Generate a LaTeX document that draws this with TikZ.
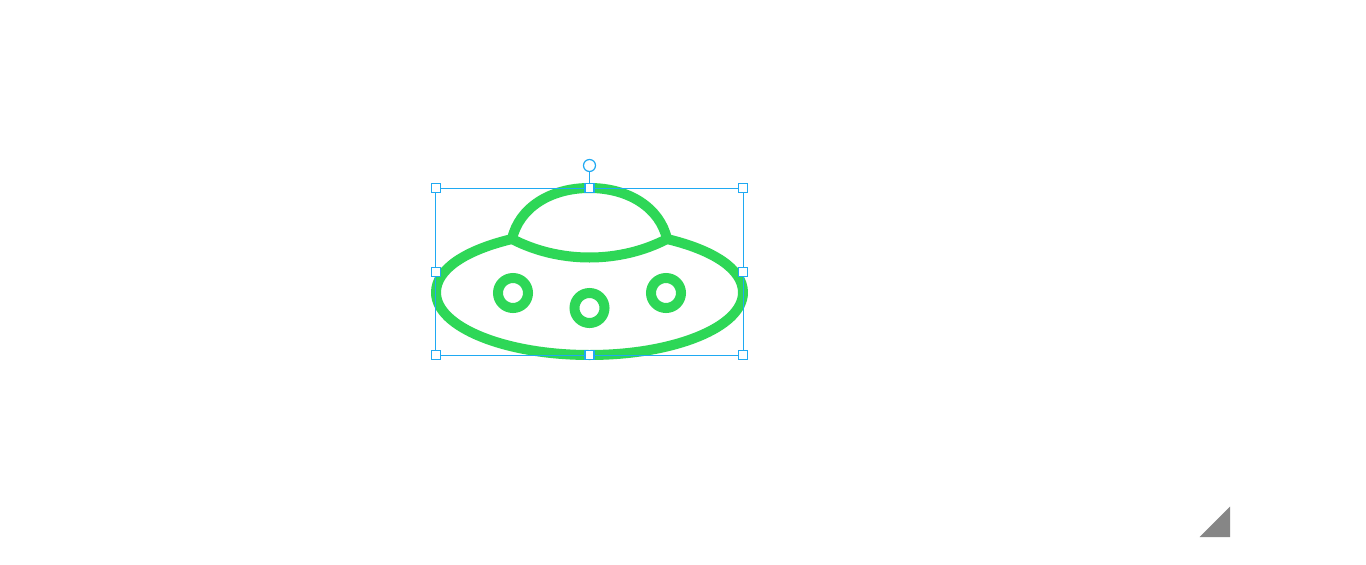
\documentclass[tikz,border=0pt]{standalone}
\definecolor{ufogreen}{HTML}{2ED757}
\definecolor{selblue}{HTML}{1FA9F2}
\definecolor{cornergray}{HTML}{868686}
\tikzset{
  ufoline/.style={draw=ufogreen,line width=10pt,line join=round,line cap=round},
  porthole/.style={draw=ufogreen,line width=10pt},
  selline/.style={draw=selblue,line width=1pt},
  handle/.style={draw=selblue,fill=white,line width=1.2pt,rectangle,minimum size=9pt,inner sep=0pt,outer sep=0pt},
  rothandle/.style={draw=selblue,fill=white,line width=1.2pt,circle,minimum size=12pt,inner sep=0pt,outer sep=0pt}
}
\begin{document}
\begin{tikzpicture}[x=1pt,y=-1pt]
\useasboundingbox (0,0) rectangle (1366,565);
\fill[white] (0,0) rectangle (1366,565);
% saucer body
\draw[ufoline] (512,239) .. controls (466,250) and (436,269) .. (436,292.5)
  .. controls (436,327) and (505,355) .. (589.5,355)
  .. controls (674,355) and (743,327) .. (743,292.5)
  .. controls (743,269) and (713,250) .. (667,239);
% dome
\draw[ufoline] (512,239) .. controls (519,208) and (550,188) .. (589.5,188)
  .. controls (629,188) and (660,208) .. (667,239)
  .. controls (644,251) and (617,257.5) .. (589.5,257.5)
  .. controls (562,257.5) and (535,251) .. (512,239) -- cycle;
% portholes
\draw[porthole] (513,293) circle[radius=15];
\draw[porthole] (589.5,308) circle[radius=15];
\draw[porthole] (666,293) circle[radius=15];
% selection frame
\draw[selline] (435.8,188) rectangle (743,355);
\node[rothandle] (rot) at (589.5,165.5) {};
\node[handle] (tl) at (436,188) {};
\node[handle] (tm) at (589.5,188) {};
\node[handle] (tr) at (743,188) {};
\node[handle] (ml) at (436,272) {};
\node[handle] (mr) at (743,272) {};
\node[handle] (bl) at (436,355) {};
\node[handle] (bm) at (589.5,355) {};
\node[handle] (br) at (743,355) {};
\draw[selline] (rot) -- (tm);
% resize corner
\fill[cornergray] (1199.5,537) -- (1230,537) -- (1230,506.5) -- cycle;
\end{tikzpicture}
\end{document}
